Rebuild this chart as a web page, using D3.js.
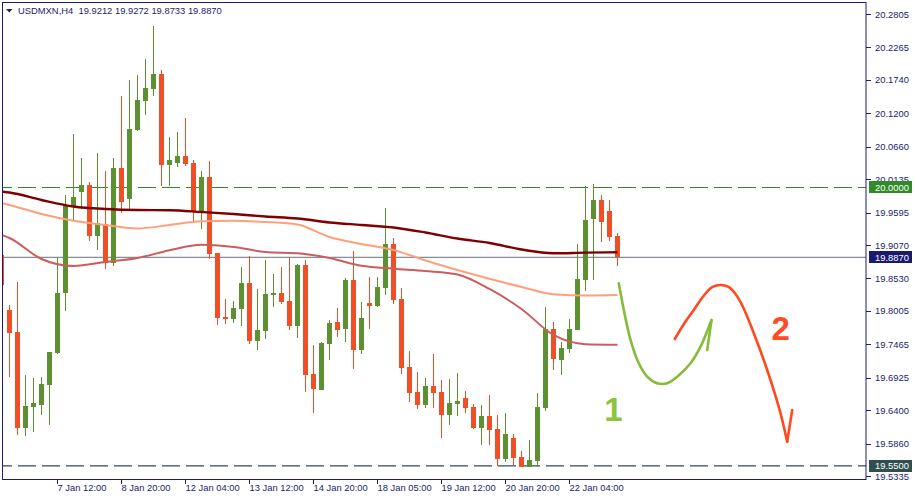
<!DOCTYPE html>
<html><head><meta charset="utf-8">
<script src="https://cdn.jsdelivr.net/npm/d3@7"></script>
<style>
body{margin:0;background:#fff;}
svg{display:block;}
text{font-family:"Liberation Sans",Arial,sans-serif;}
</style>
</head><body>
<svg id="c" width="915" height="500"></svg>
<script>
// ---------- DATA ----------
const symbol = "USDMXN,H4";
const headerValues = ["19.9212","19.9272","19.8733","19.8870"];
const firstIndex = -1;
const opens  = [19.8909,19.8019,19.7664,19.6116,19.6456,19.6483,19.6812,19.7324,19.8290,19.9701,19.9927,20.0040,19.9221,19.9410,19.8784,20.0315,19.9814,20.0930,20.1398,20.1592,20.1835,20.0364,20.0396,20.0509,20.0396,19.9604,20.0170,19.8941,19.7906,19.7874,19.8036,19.8456,19.7518,19.7680,19.8262,19.8294,19.8165,19.7761,19.8747,19.6985,19.6726,19.7470,19.7825,19.7712,19.8504,19.7373,19.8133,19.8084,19.8375,19.9086,19.8197,19.7098,19.6694,19.6483,19.6791,19.6694,19.6322,19.6500,19.6597,19.6451,19.6112,19.6306,19.6095,19.5610,19.5950,19.5643,19.5481,19.5578,19.6435,19.7712,19.7211,19.7389,19.7696,19.8504,19.9491,19.9798,19.9620,19.9212];
const highs  = [19.8909,19.8100,19.8472,19.6968,19.6920,19.6936,19.7345,19.8876,19.9879,20.0865,20.0477,20.0089,20.0558,20.0267,20.0477,20.1479,20.1738,20.1819,20.2078,20.2611,20.1900,20.0816,20.0897,20.1124,20.0445,20.0267,20.0428,19.8941,19.8197,19.8165,19.8715,19.8892,19.8359,19.8828,19.8601,19.8715,19.8876,19.8763,19.8828,19.7453,19.7502,19.7858,19.8052,19.8537,19.8973,19.8149,19.8553,19.8553,19.9668,19.9183,19.8375,19.7356,19.7017,19.6920,19.7308,19.6888,19.6904,19.7001,19.6710,19.6500,19.6483,19.6645,19.6322,19.6354,19.6014,19.5740,19.5917,19.6677,19.8068,19.7825,19.7502,19.7874,19.9086,20.0024,20.0056,19.9879,19.9798,19.9272];
const lows   = [19.8424,19.6936,19.5998,19.5982,19.6047,19.6322,19.6160,19.7308,19.8008,19.9474,19.9652,19.9140,19.8989,19.8682,19.8736,19.9592,19.9636,20.0913,20.1172,20.1479,20.0024,20.0024,20.0331,20.0348,19.9442,19.9329,19.8844,19.7782,19.7798,19.7809,19.7761,19.7470,19.7373,19.7550,19.8068,19.8116,19.7696,19.7567,19.6694,19.6354,19.6720,19.7211,19.7583,19.7502,19.7065,19.7308,19.7712,19.8068,19.8262,19.8116,19.6985,19.6532,19.6419,19.6435,19.6435,19.5950,19.6160,19.6306,19.6354,19.6095,19.5837,19.5837,19.5497,19.5562,19.5513,19.5475,19.5475,19.5478,19.6386,19.7049,19.6968,19.7324,19.7690,19.8327,19.8504,19.9119,19.9135,19.8733];
const closes = [19.8424,19.7647,19.6116,19.6467,19.6516,19.6823,19.7340,19.8294,19.9717,19.9846,20.0040,19.9221,19.9418,19.8784,20.0315,19.9765,20.0946,20.1415,20.1609,20.1835,20.0364,20.0445,20.0509,20.0380,19.9604,20.0170,19.8930,19.7895,19.7874,19.8052,19.8456,19.7518,19.7696,19.8278,19.8294,19.8149,19.7761,19.8747,19.6968,19.6742,19.7486,19.7809,19.7696,19.8504,19.7373,19.7890,19.8084,19.8391,19.9086,19.8181,19.7082,19.6677,19.6483,19.6791,19.6677,19.6322,19.6516,19.6548,19.6435,19.6112,19.6306,19.6079,19.5610,19.6014,19.5627,19.5481,19.5594,19.6451,19.7712,19.7227,19.7405,19.7712,19.8521,19.9474,19.9798,19.9442,19.9200,19.8870];

// moving averages, read at these bar indices
const maIndex = [-1,0,4,8,12,16,20,24,28,32,36,40,44,48,52,56,60,64,68,72,76];
const maSlow = [19.9935,19.9919,19.9798,19.9693,19.9652,19.9636,19.9633,19.9604,19.9571,19.9531,19.9499,19.9434,19.9394,19.9353,19.9272,19.9175,19.9103,19.8997,19.8936,19.8946,19.8952];
const maMid  = [19.9749,19.9717,19.9571,19.9462,19.9394,19.9337,19.9394,19.9453,19.9462,19.9442,19.9402,19.9200,19.9086,19.8989,19.8820,19.8666,19.8524,19.8391,19.8273,19.8254,19.8262];
const maFast = [19.9232,19.9183,19.8844,19.8731,19.8795,19.8860,19.8985,19.9075,19.9038,19.8957,19.8936,19.8860,19.8734,19.8687,19.8650,19.8593,19.8359,19.8036,19.7615,19.7466,19.7458];

// axis labels
const priceTicks = [20.2805,20.2265,20.1740,20.1200,20.0660,20.0135,19.9595,19.9070,19.8530,19.8005,19.7465,19.6925,19.6400,19.5860,19.5335];
const timeTickIndex = [6,14,22,30,38,46,54,62,70];
const timeTickLabels = ["7 Jan 12:00","8 Jan 20:00","12 Jan 04:00","13 Jan 12:00","14 Jan 20:00","18 Jan 05:00","19 Jan 12:00","20 Jan 20:00","22 Jan 04:00"];

// horizontal levels
const resistance = 20.0000;
const support = 19.5500;
const bid = 19.8870;

// hand-drawn scenario arrows (bar index, price)
const path1Index = [76.16,76.79,77.63,78.66,79.71,80.96,82.21,83.46,85.13,86.38,87.75];
const path1Price = [19.8451,19.8019,19.7534,19.7158,19.6941,19.6834,19.6834,19.6941,19.7158,19.7426,19.7857];
const barb1Index = [87.21,87.75];
const barb1Price = [19.7373,19.7857];
const path2Index = [83.16,84.38,85.54,86.75,87.88,88.88,89.88,90.75,91.63,93.04,94.71,96.38,97.21];
const path2Price = [19.7550,19.7809,19.8019,19.8246,19.8391,19.8424,19.8391,19.8278,19.8084,19.7642,19.7049,19.6349,19.5890];
const barb2Index = [97.21,97.84];
const barb2Price = [19.5890,19.6403];
const label1 = {text:"1", index:75.5, price:19.6225};
const label2 = {text:"2", index:96.4, price:19.7530};

// ---------- DRAW ----------
const svg = d3.select("#c");
const plotL = 3, plotT = 3, plotR = 866, plotB = 479;
const x = d3.scaleLinear().domain([0,100]).range([9.5,809.5]);
const y = d3.scaleLinear().domain([19.5335,20.2805]).range([476,14]);

const axisColor = "#1c1c6c";
const upColor = "#5b9131";
const downColor = "#f04f26";

svg.append("defs").append("clipPath").attr("id","clip")
  .append("rect").attr("x",plotL).attr("y",plotT).attr("width",plotR-plotL).attr("height",plotB-plotT);

const g = svg.append("g").attr("clip-path","url(#clip)");

// levels
g.append("line").attr("x1",plotL).attr("x2",plotR).attr("y1",y(bid)).attr("y2",y(bid))
  .attr("stroke","#858d95").attr("stroke-width",1.2);
g.append("line").attr("x1",plotL).attr("x2",plotR).attr("y1",y(resistance)).attr("y2",y(resistance))
  .attr("stroke","#2f8a22").attr("stroke-width",1.2).attr("stroke-dasharray","18,6").attr("stroke-dashoffset",9);
g.append("line").attr("x1",plotL).attr("x2",plotR).attr("y1",y(support)).attr("y2",y(support))
  .attr("stroke","#2f4f4f").attr("stroke-width",1.2).attr("stroke-dasharray","18,6").attr("stroke-dashoffset",9);

// candles
const bars = opens.map((o,k)=>({i:firstIndex+k,o,h:highs[k],l:lows[k],c:closes[k]}));
const cg = g.append("g").attr("shape-rendering","crispEdges");
cg.selectAll("line.w").data(bars).join("line").attr("class","w")
  .attr("x1",d=>x(d.i)).attr("x2",d=>x(d.i))
  .attr("y1",d=>y(d.h)).attr("y2",d=>y(d.l))
  .attr("stroke",d=>d.c>=d.o?upColor:downColor).attr("stroke-width",1);
cg.selectAll("rect.b").data(bars).join("rect").attr("class","b")
  .attr("x",d=>x(d.i)-2.5).attr("width",5)
  .attr("y",d=>y(Math.max(d.o,d.c)))
  .attr("height",d=>Math.max(1.5,Math.abs(y(d.o)-y(d.c))))
  .attr("fill",d=>d.c>=d.o?upColor:downColor);

// moving averages
const maLine = vals => d3.line().curve(d3.curveMonotoneX)
  .x((d,k)=>x(maIndex[k])).y(d=>y(d))(vals);
g.append("path").attr("d",maLine(maMid)).attr("fill","none").attr("stroke","#ffa07a").attr("stroke-width",2);
g.append("path").attr("d",maLine(maFast)).attr("fill","none").attr("stroke","#cd5c5c").attr("stroke-width",2);
g.append("path").attr("d",maLine(maSlow)).attr("fill","none").attr("stroke","#7f0000").attr("stroke-width",2.4);

// scenario drawings
const pathOf = (xi,pr,curve)=> d3.line().curve(curve).x((d,k)=>x(xi[k])).y(d=>y(d))(pr);
g.append("path").attr("d",pathOf(path1Index,path1Price,d3.curveCatmullRom)).attr("fill","none")
  .attr("stroke","#86bb3a").attr("stroke-width",2.6).attr("stroke-linecap","round");
g.append("path").attr("d",pathOf(barb1Index,barb1Price,d3.curveLinear)).attr("fill","none")
  .attr("stroke","#86bb3a").attr("stroke-width",2.6).attr("stroke-linecap","round");
g.append("path").attr("d",pathOf(path2Index,path2Price,d3.curveCatmullRom)).attr("fill","none")
  .attr("stroke","#ff4a1e").attr("stroke-width",2.6).attr("stroke-linecap","round");
g.append("path").attr("d",pathOf(barb2Index,barb2Price,d3.curveLinear)).attr("fill","none")
  .attr("stroke","#ff4a1e").attr("stroke-width",2.6).attr("stroke-linecap","round");
g.append("text").attr("x",x(label1.index)).attr("y",y(label1.price)).attr("text-anchor","middle")
  .attr("font-size",33).attr("font-weight","bold").attr("fill","#8cc43e").text(label1.text);
g.append("text").attr("x",x(label2.index)).attr("y",y(label2.price)).attr("text-anchor","middle")
  .attr("font-size",33).attr("font-weight","bold").attr("fill","#ff4b24").text(label2.text);

// frame
svg.append("rect").attr("x",2.5).attr("y",2.5).attr("width",plotR-2.5).attr("height",plotB+0.5-2.5)
  .attr("fill","none").attr("stroke",axisColor).attr("stroke-width",1);

// header
svg.append("path").attr("d","M6,9 L12.5,9 L9.25,12.5 Z").attr("fill",axisColor);
svg.append("text").attr("x",18).attr("y",14).attr("font-size",9.4).attr("fill",axisColor)
  .attr("xml:space","preserve").text(symbol+"  "+headerValues.join(" "));

// price axis
const pa = svg.append("g").attr("shape-rendering","crispEdges");
pa.selectAll("line").data(priceTicks).join("line")
  .attr("x1",plotR).attr("x2",plotR+5).attr("y1",d=>Math.round(y(d))+0.5).attr("y2",d=>Math.round(y(d))+0.5)
  .attr("stroke",axisColor);
svg.append("g").selectAll("text").data(priceTicks).join("text")
  .attr("x",875).attr("y",d=>y(d)+3.5).attr("font-size",9.4).attr("fill",axisColor)
  .text(d=>d.toFixed(4));

// price tags
const tags = [
  {v:resistance, bg:"#2e8b25", fg:"#ffffff"},
  {v:bid, bg:"#191970", fg:"#ffffff"},
  {v:support, bg:"#2f4f4f", fg:"#ffffff"}
];
tags.forEach(t=>{
  svg.append("rect").attr("x",869).attr("y",y(t.v)-6).attr("width",43).attr("height",12)
    .attr("fill",t.bg).attr("shape-rendering","crispEdges");
  svg.append("text").attr("x",875).attr("y",y(t.v)+3.5).attr("font-size",9.4).attr("fill",t.fg)
    .text(t.v.toFixed(4));
});

// time axis
const ta = svg.append("g");
ta.selectAll("line").data(timeTickIndex).join("line")
  .attr("x1",d=>x(d)).attr("x2",d=>x(d)).attr("y1",plotB).attr("y2",plotB+5)
  .attr("stroke",axisColor).attr("shape-rendering","crispEdges");
ta.selectAll("text").data(timeTickIndex).join("text")
  .attr("x",d=>x(d)).attr("y",491).attr("font-size",9.4).attr("fill",axisColor)
  .text((d,k)=>timeTickLabels[k]);
</script>
</body></html>
